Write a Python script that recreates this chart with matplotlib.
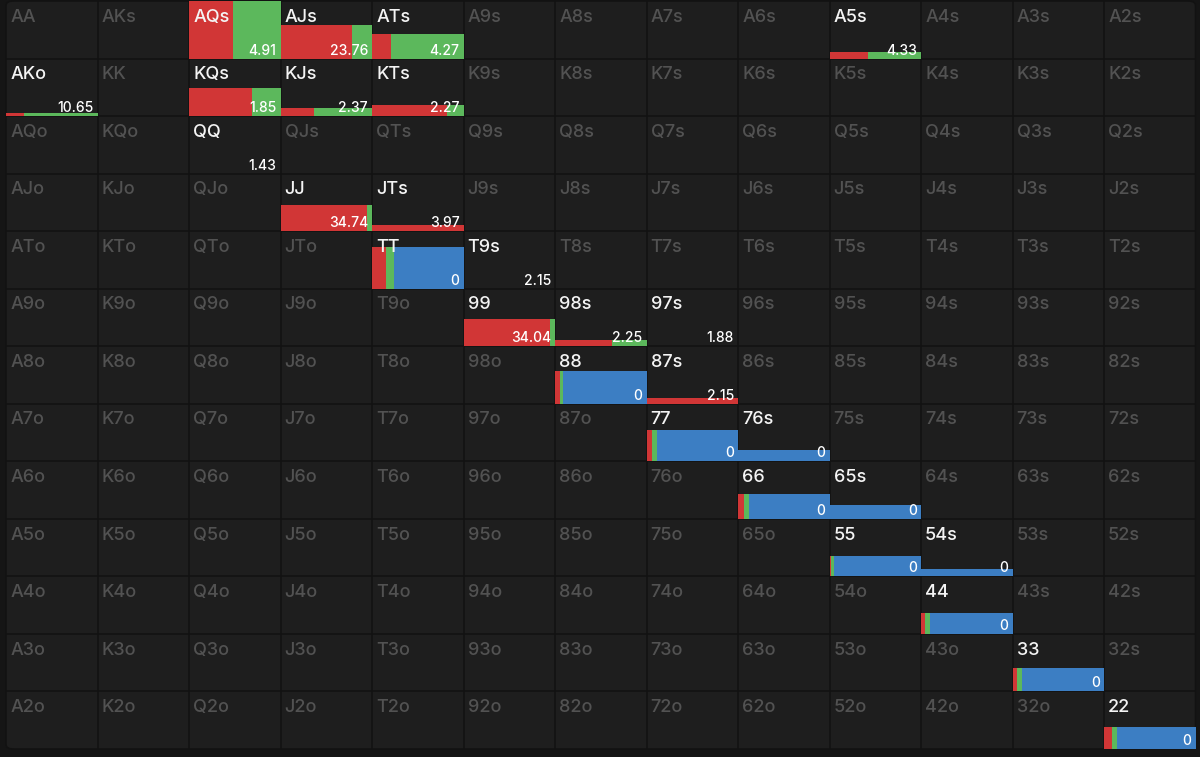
import matplotlib.pyplot as plt
from matplotlib.patches import FancyBboxPatch

# Ranks for the 13x13 hand grid
ranks = ['A', 'K', 'Q', 'J', 'T', '9', '8', '7', '6', '5', '4', '3', '2']

# Active hands: bar height (share of cell), raise / call / fold split, value
hands = ['AQs', 'AJs', 'ATs', 'A5s', 'AKo', 'KQs', 'KJs', 'KTs', 'QQ', 'JJ',
         'JTs', 'TT', 'T9s', '99', '98s', '97s', '88', '87s', '77', '76s',
         '66', '65s', '55', '54s', '44', '33', '22']
heights = [1.0, 0.59, 0.43, 0.12, 0.05, 0.49, 0.14, 0.20, 0.0, 0.45,
           0.10, 0.73, 0.0, 0.47, 0.10, 0.0, 0.57, 0.10, 0.55, 0.19,
           0.43, 0.24, 0.35, 0.13, 0.37, 0.41, 0.38]
raise_frac = [0.48, 0.78, 0.21, 0.42, 0.20, 0.69, 0.37, 0.82, 0.0, 0.95,
              1.0, 0.15, 0.0, 0.94, 0.62, 0.0, 0.05, 1.0, 0.06, 0.0,
              0.065, 0.0, 0.02, 0.0, 0.04, 0.05, 0.085]
call_frac = [0.52, 0.22, 0.79, 0.58, 0.80, 0.31, 0.63, 0.18, 0.0, 0.05,
             0.0, 0.09, 0.0, 0.06, 0.38, 0.0, 0.04, 0.0, 0.05, 0.0,
             0.05, 0.0, 0.03, 0.0, 0.06, 0.05, 0.06]
values = ['4.91', '23.76', '4.27', '4.33', '10.65', '1.85', '2.37', '2.27', '1.43', '34.74',
          '3.97', '0', '2.15', '34.04', '2.25', '1.88', '0', '2.15', '0', '0',
          '0', '0', '0', '0', '0', '0', '0']

RED = '#d13636'
GREEN = '#5cb85c'
BLUE = '#3c7ec3'
CELL = '#1e1e1e'
LINE = '#121212'

plt.rcParams['font.family'] = ['Inter', 'DejaVu Sans']

fig = plt.figure(figsize=(12, 7.57), dpi=100)
fig.patch.set_facecolor('#151515')
ax = fig.add_axes([6 / 1200, 8 / 757, 1189.5 / 1200, 748 / 757])
ax.set_xlim(0, 13)
ax.set_ylim(13, 0)
ax.set_facecolor(CELL)
ax.axis('off')

frame = FancyBboxPatch((0, 0), 13, 13, boxstyle='round,pad=0,rounding_size=0.08',
                       facecolor=CELL, edgecolor=LINE, lw=1.2, zorder=0,
                       transform=ax.transData, clip_on=False)
ax.add_patch(frame)

for i in range(1, 13):
    ax.axvline(i, color=LINE, lw=1.2, zorder=1)
    ax.axhline(i, color=LINE, lw=1.2, zorder=1)


def hand_name(r, c):
    if r == c:
        return ranks[r] + ranks[c]
    if c > r:
        return ranks[r] + ranks[c] + 's'
    return ranks[c] + ranks[r] + 'o'


pos = {}
for r in range(13):
    for c in range(13):
        pos[hand_name(r, c)] = (r, c)

for r in range(13):
    for c in range(13):
        name = hand_name(r, c)
        color = '#f4f4f4' if name in hands else '#525252'
        ax.text(c + 0.045, r + 0.36, name, fontsize=13, color=color,
                fontweight='medium', ha='left', va='baseline', zorder=4)

for name, h, rf, cf, val in zip(hands, heights, raise_frac, call_frac, values):
    r, c = pos[name]
    ff = max(0.0, 1.0 - rf - cf)
    if h > 0:
        left = c
        for frac, col in [(rf, RED), (cf, GREEN), (ff, BLUE)]:
            if frac > 0.001:
                ax.barh(r + 1 - h, frac, height=h, left=left, align='edge',
                        color=col, lw=0, zorder=2)
            left += frac
    ax.text(c + 1 - 0.045, r + 1 - 0.07, val, fontsize=10, color='#ffffff',
            fontweight='medium', ha='right', va='baseline', zorder=5)

fig.savefig('out.png', dpi=100, facecolor=fig.get_facecolor())
